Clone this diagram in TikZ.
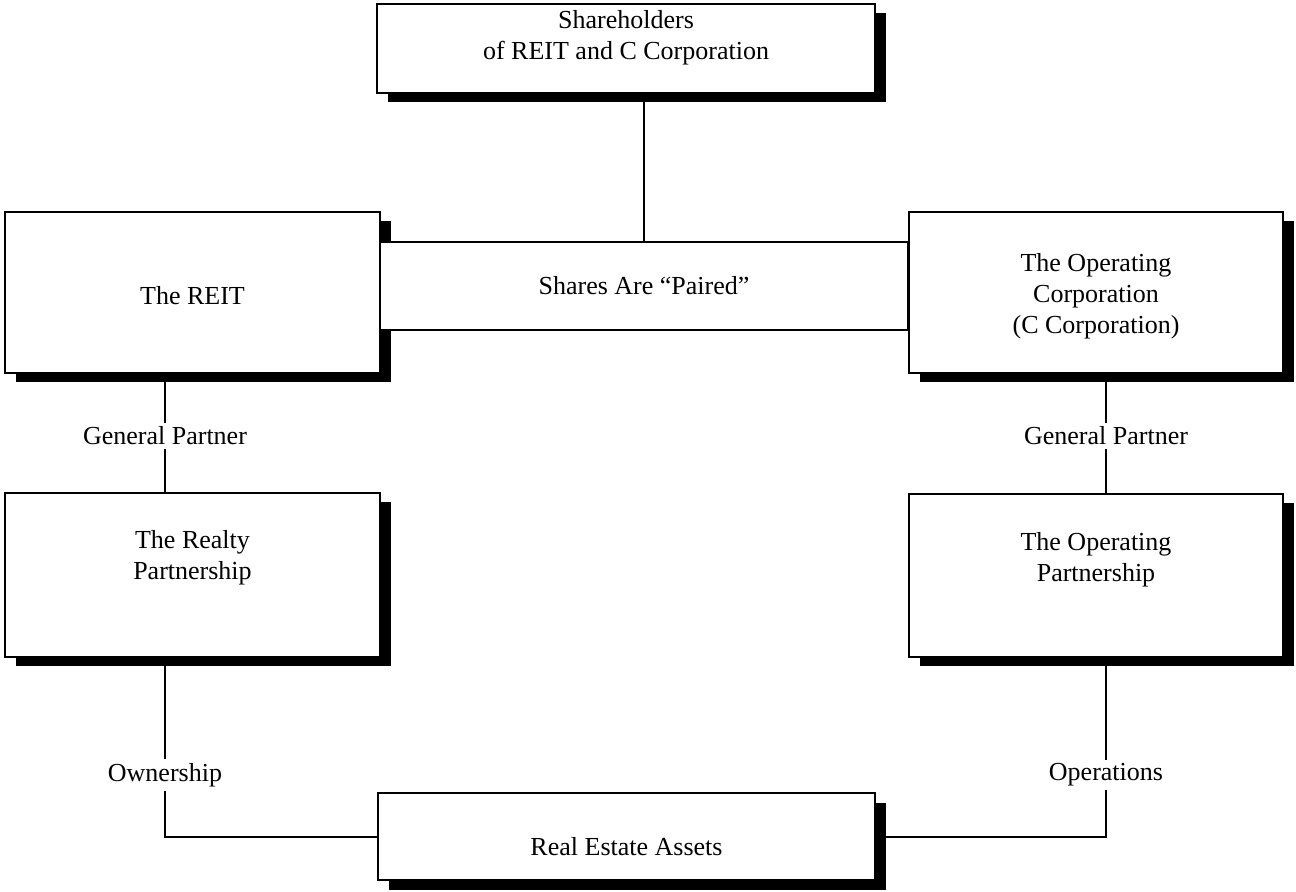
\documentclass[tikz,border=0pt]{standalone}
\usepackage{fontspec}
\setmainfont{Liberation Serif}
\usetikzlibrary{shadows,calc}
\begin{document}
\begin{tikzpicture}[x=0.5pt,y=-0.5pt,
  box/.style={draw=black, line width=1pt, fill=white, rectangle, inner sep=0pt,
    drop shadow={shadow xshift=5.25pt, shadow yshift=-4.75pt, fill=black, opacity=1, draw=none}},
  flat/.style={draw=black, line width=1.2pt, fill=white, rectangle, inner sep=0pt},
  txt/.style={align=center, inner sep=0pt, font=\fontsize{13pt}{15.5pt}\selectfont},
  lbl/.style={fill=white, inner sep=2pt, font=\fontsize{13pt}{15.5pt}\selectfont},
  link/.style={draw=black, line width=1pt}]
\useasboundingbox (0,0) rectangle (1296,892);

% x positions of the vertical connectors
\coordinate (cx) at (644,0);
\coordinate (lx) at (165,0);
\coordinate (rx) at (1106,0);

% boxes
\node[box, minimum width=249pt, minimum height=44.5pt] (sh) at (626,48.5) {};
\node[box, minimum width=187.5pt, minimum height=80.5pt] (reit) at (192.5,292.5) {};
\node[box, minimum width=187pt, minimum height=80.5pt] (opc) at (1096,292.5) {};
\node[flat, minimum width=264pt, minimum height=44pt] (pair) at (644,286) {};
\node[box, minimum width=187.5pt, minimum height=82pt] (rp) at (192.5,575) {};
\node[box, minimum width=187pt, minimum height=81.5pt] (op) at (1096,575.5) {};
\node[box, minimum width=248.5pt, minimum height=43.5pt] (rea) at (626.5,836.5) {};

% box texts
\node[txt] (sht) at (626,38) {Shareholders\\of REIT and C Corporation};
\node[txt] (reitt) at (192.5,296) {The REIT};
\node[txt] (pairt) at (644,286) {Shares Are “Paired”};
\node[txt] (opct) at (1096,296) {The Operating\\Corporation\\(C Corporation)};
\node[txt] (rpt) at (192.5,558) {The Realty\\Partnership};
\node[txt] (opt) at (1096,560) {The Operating\\Partnership};
\node[txt] (reat) at (626.5,847) {Real Estate Assets};

% connectors
\draw[link] (sh.south -| cx) -- (pair.north -| cx);
\draw[link] (reit.south -| lx) -- (rp.north -| lx);
\draw[link] (opc.south -| rx) -- (op.north -| rx);
\draw[link] (rp.south -| lx) |- (rea.west);
\draw[link] (op.south -| rx) |- (rea.east);

% connector labels
\node[lbl] (gp1) at (165,436) {General Partner};
\node[lbl] (gp2) at (1106,436) {General Partner};
\node[lbl] (own) at (165,775) {Ownership};
\node[lbl] (ops) at (1106,775) {Operations};
\end{tikzpicture}
\end{document}
